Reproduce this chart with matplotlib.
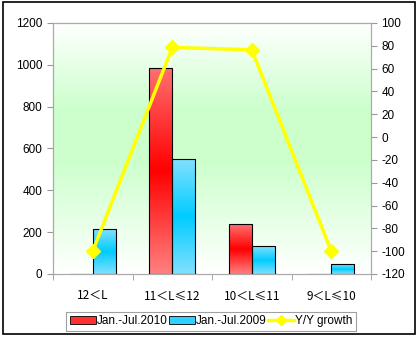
import numpy as np
import matplotlib
matplotlib.use('Agg')
import matplotlib.pyplot as plt
from matplotlib.colors import LinearSegmentedColormap
from matplotlib.lines import Line2D
from matplotlib.patches import Rectangle

categories = ['12＜L', '11＜L≤12', '10＜L≤11', '9＜L≤10']
sales_2010 = [0, 985, 238, 0]
sales_2009 = [214, 549, 132, 46]
growth = [-100, 78.5, 76.5, -100]

plt.rcParams['font.family'] = ['Liberation Sans', 'DejaVu Sans']
plt.rcParams['axes.unicode_minus'] = False

fig = plt.figure(figsize=(4.19, 3.37), dpi=100)
ax = fig.add_axes([0.1265, 0.187, 0.759, 0.745])

# background gradient: white top, green middle-low, white bottom
bg = LinearSegmentedColormap.from_list('bg', [(0, '#ffffff'), (0.45, '#ccffcc'), (0.65, '#ccffcc'), (1, '#ffffff')])
ax.imshow(np.linspace(1, 0, 256).reshape(-1, 1), cmap=bg, aspect='auto',
          extent=[-0.5, 3.5, 0, 1200], zorder=0)

red_cm = LinearSegmentedColormap.from_list('r', ['#ff7070', '#ff0000', '#ff8080'])
blue_cm = LinearSegmentedColormap.from_list('b', ['#80e0ff', '#00ccff', '#80e0ff'])

x = np.arange(len(categories))
w = 0.29
for vals, off, cm in [(sales_2010, -w / 2, red_cm), (sales_2009, w / 2, blue_cm)]:
    bars = ax.bar(x + off, vals, w, facecolor='none', edgecolor='black', linewidth=0.8, zorder=3)
    for b in bars:
        h = b.get_height()
        if h <= 0:
            continue
        im = ax.imshow(np.linspace(0, 1, 100).reshape(-1, 1), cmap=cm, aspect='auto',
                       extent=[b.get_x(), b.get_x() + b.get_width(), 0, h], zorder=2)
        im.set_clip_path(b)

ax.set_xlim(-0.5, 3.5)
ax.set_ylim(0, 1200)
ax.set_yticks(range(0, 1201, 200))
ax.set_xticks(x)
ax.set_xticklabels(categories, family=['Noto Sans CJK SC', 'DejaVu Sans'], fontsize=8.5)
ax.set_xticks(np.arange(-0.5, 4, 1), minor=True)
ax.tick_params(axis='x', which='major', length=0, pad=11)
ax.tick_params(axis='x', which='minor', length=4, color='#999999', direction='out')
ax.tick_params(axis='y', labelsize=8.5, length=4, color='#999999')
for s in ax.spines.values():
    s.set_color('#aaaaaa')

ax2 = ax.twinx()
ax2.plot(x, growth, color='#ffff00', linewidth=2.5, marker='D', markersize=7, zorder=5)
ax2.set_ylim(-120, 100)
ax2.set_yticks(range(-120, 101, 20))
ax2.tick_params(axis='y', labelsize=8.5, length=4, color='#999999')
for s in ax2.spines.values():
    s.set_color('#aaaaaa')

handles = [Rectangle((0, 0), 1, 1, facecolor='#ff3030', edgecolor='black', linewidth=0.6),
           Rectangle((0, 0), 1, 1, facecolor='#30d0ff', edgecolor='black', linewidth=0.6),
           Line2D([], [], color='#ffff00', linewidth=2.5, marker='D', markersize=5)]
leg = fig.legend(handles, ['Jan.-Jul.2010', 'Jan.-Jul.2009', 'Y/Y growth'], loc='center',
                 bbox_to_anchor=(0.504, 0.047), ncol=3, fontsize=8.5, frameon=True, fancybox=False,
                 handlelength=2.2, handleheight=0.6, handletextpad=0.1, columnspacing=0.1,
                 borderpad=0.3, edgecolor='#888888')
leg.get_frame().set_linewidth(0.8)

fig.patches.append(Rectangle((0.007, 0.008), 0.984, 0.985, transform=fig.transFigure,
                             fill=False, edgecolor='black', linewidth=1.2))

fig.savefig('out.png', dpi=100)
